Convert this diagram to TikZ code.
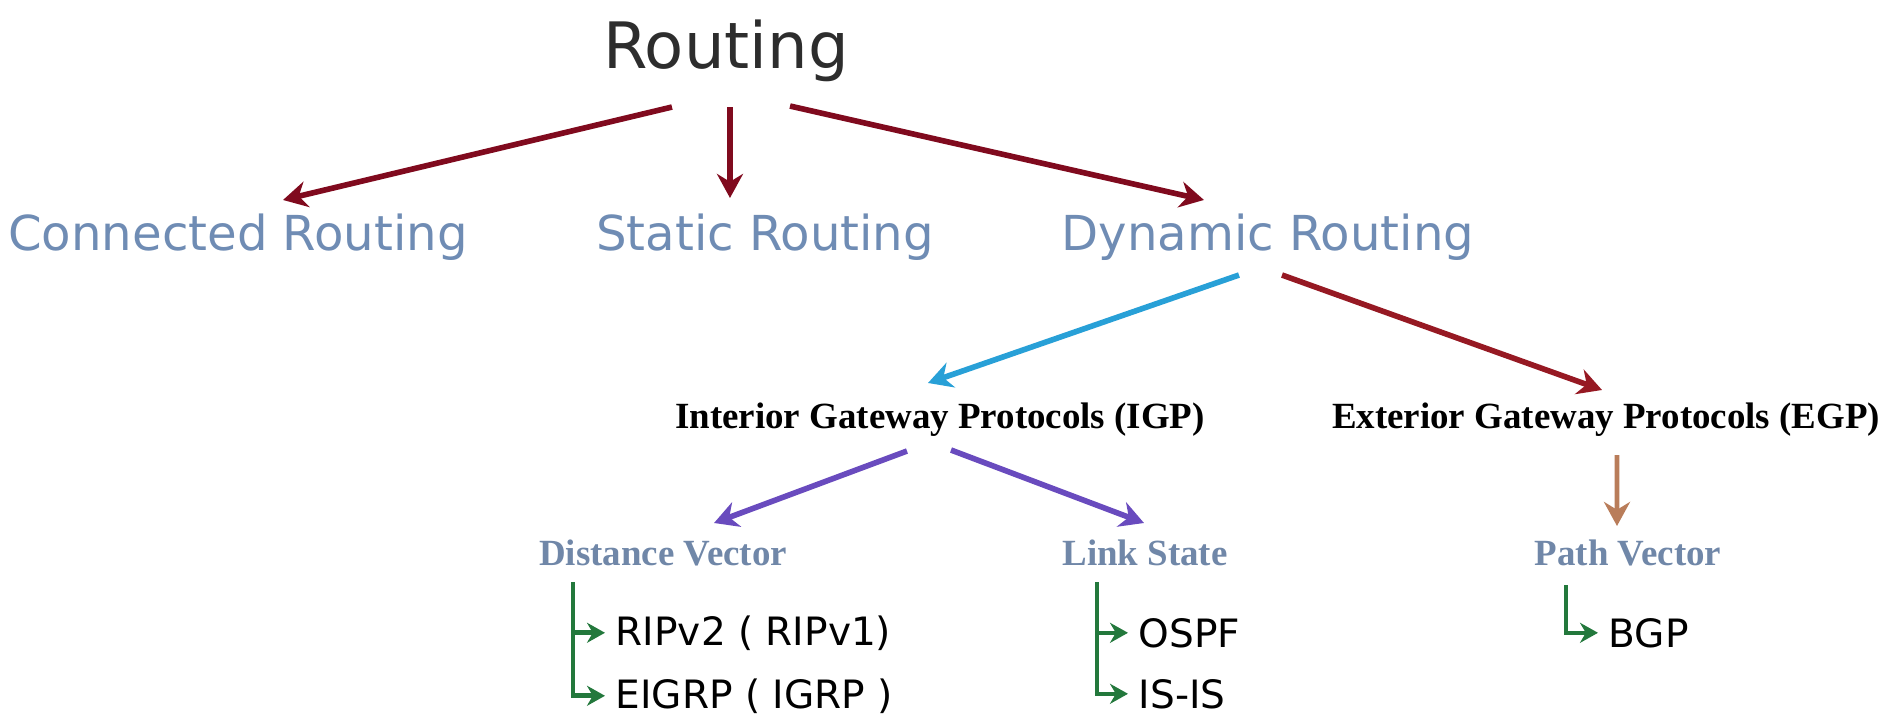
\documentclass[tikz,border=0pt]{standalone}
\usepackage{fontspec}
\setmainfont{Liberation Serif}
\newfontfamily\handfont{DejaVu Sans}
\usetikzlibrary{arrows.meta}
\definecolor{titlegray}{RGB}{45,45,45}
\definecolor{kindblue}{RGB}{111,140,180}
\definecolor{algoblue}{RGB}{112,135,168}
\definecolor{maroon}{RGB}{128,10,30}
\definecolor{darkred}{RGB}{150,25,35}
\definecolor{skyblue}{RGB}{40,160,215}
\definecolor{violet}{RGB}{105,75,190}
\definecolor{tan}{RGB}{185,125,90}
\definecolor{leafgreen}{RGB}{35,120,60}

\begin{document}
\begin{tikzpicture}[x=0.01cm,y=-0.01cm,
  title/.style={font=\handfont\fontsize{18.2}{20}\selectfont,text=titlegray,anchor=base,inner sep=0},
  kind/.style={font=\handfont\fontsize{13.7}{16}\selectfont,text=kindblue,anchor=base,inner sep=0},
  proto/.style={font=\bfseries\fontsize{10.5}{12}\selectfont,anchor=base,inner sep=0},
  algo/.style={font=\bfseries\fontsize{10.5}{12}\selectfont,text=algoblue,anchor=base,inner sep=0},
  leaf/.style={font=\handfont\fontsize{11.1}{13}\selectfont,anchor=base west,inner sep=0.1cm},
  link/.style={-{Stealth[length=0.24cm,width=0.26cm]},line width=1.6pt},
  branch/.style={-{Stealth[length=0.18cm,width=0.2cm]},line width=1.3pt,draw=leafgreen}]
\useasboundingbox (0,0) rectangle (1890,717);

\node[title] (root) at (726,68) {Routing};
\node[kind] (conn) at (238,250) {Connected Routing};
\node[kind] (stat) at (765,250) {Static Routing};
\node[kind] (dyn) at (1268,250) {Dynamic Routing};
\node[proto] (igp) at (940,428) {Interior Gateway Protocols (IGP)};
\node[proto] (egp) at (1606,428) {Exterior Gateway Protocols (EGP)};
\node[algo] (dv) at (663,565) {Distance Vector};
\node[algo] (ls) at (1145,565) {Link State};
\node[algo] (pv) at (1628,565) {Path Vector};
\node[leaf] (rip) at (605,645) {RIPv2 ( RIPv1)};
\node[leaf] (eigrp) at (605,708) {EIGRP ( IGRP )};
\node[leaf] (ospf) at (1128,647) {OSPF};
\node[leaf] (isis) at (1128,708) {IS-IS};
\node[leaf] (bgp) at (1598,647) {BGP};

\draw[link,maroon] ([xshift=-0.54cm,yshift=-0.39cm]root.base) -- ([xshift=0.45cm,yshift=0.5cm]conn.base);
\draw[link,maroon] ([xshift=0.04cm,yshift=-0.39cm]root.base) -- ([xshift=-0.35cm,yshift=0.52cm]stat.base);
\draw[link,maroon] ([xshift=0.64cm,yshift=-0.38cm]root.base) -- ([xshift=-0.64cm,yshift=0.5cm]dyn.base);
\draw[link,skyblue] ([xshift=-0.29cm,yshift=-0.25cm]dyn.base) -- ([xshift=-0.12cm,yshift=0.45cm]igp.base);
\draw[link,darkred] ([xshift=0.14cm,yshift=-0.25cm]dyn.base) -- ([xshift=-0.04cm,yshift=0.38cm]egp.base);
\draw[link,violet] ([xshift=-0.33cm,yshift=-0.23cm]igp.base) -- ([xshift=0.51cm,yshift=0.42cm]dv.base);
\draw[link,violet] ([xshift=0.11cm,yshift=-0.22cm]igp.base) -- ([xshift=-0.01cm,yshift=0.42cm]ls.base);
\draw[link,tan,line width=1.3pt] ([xshift=0.11cm,yshift=-0.27cm]egp.base) -- ([xshift=-0.11cm,yshift=0.39cm]pv.base);
\draw[branch] ([xshift=-0.9cm,yshift=-0.17cm]dv.base) |- (rip.west);
\draw[branch] ([xshift=-0.9cm,yshift=-0.17cm]dv.base) |- (eigrp.west);
\draw[branch] ([xshift=-0.48cm,yshift=-0.17cm]ls.base) |- (ospf.west);
\draw[branch] ([xshift=-0.48cm,yshift=-0.17cm]ls.base) |- (isis.west);
\draw[branch] ([xshift=-0.62cm,yshift=-0.2cm]pv.base) |- (bgp.west);
\end{tikzpicture}
\end{document}
